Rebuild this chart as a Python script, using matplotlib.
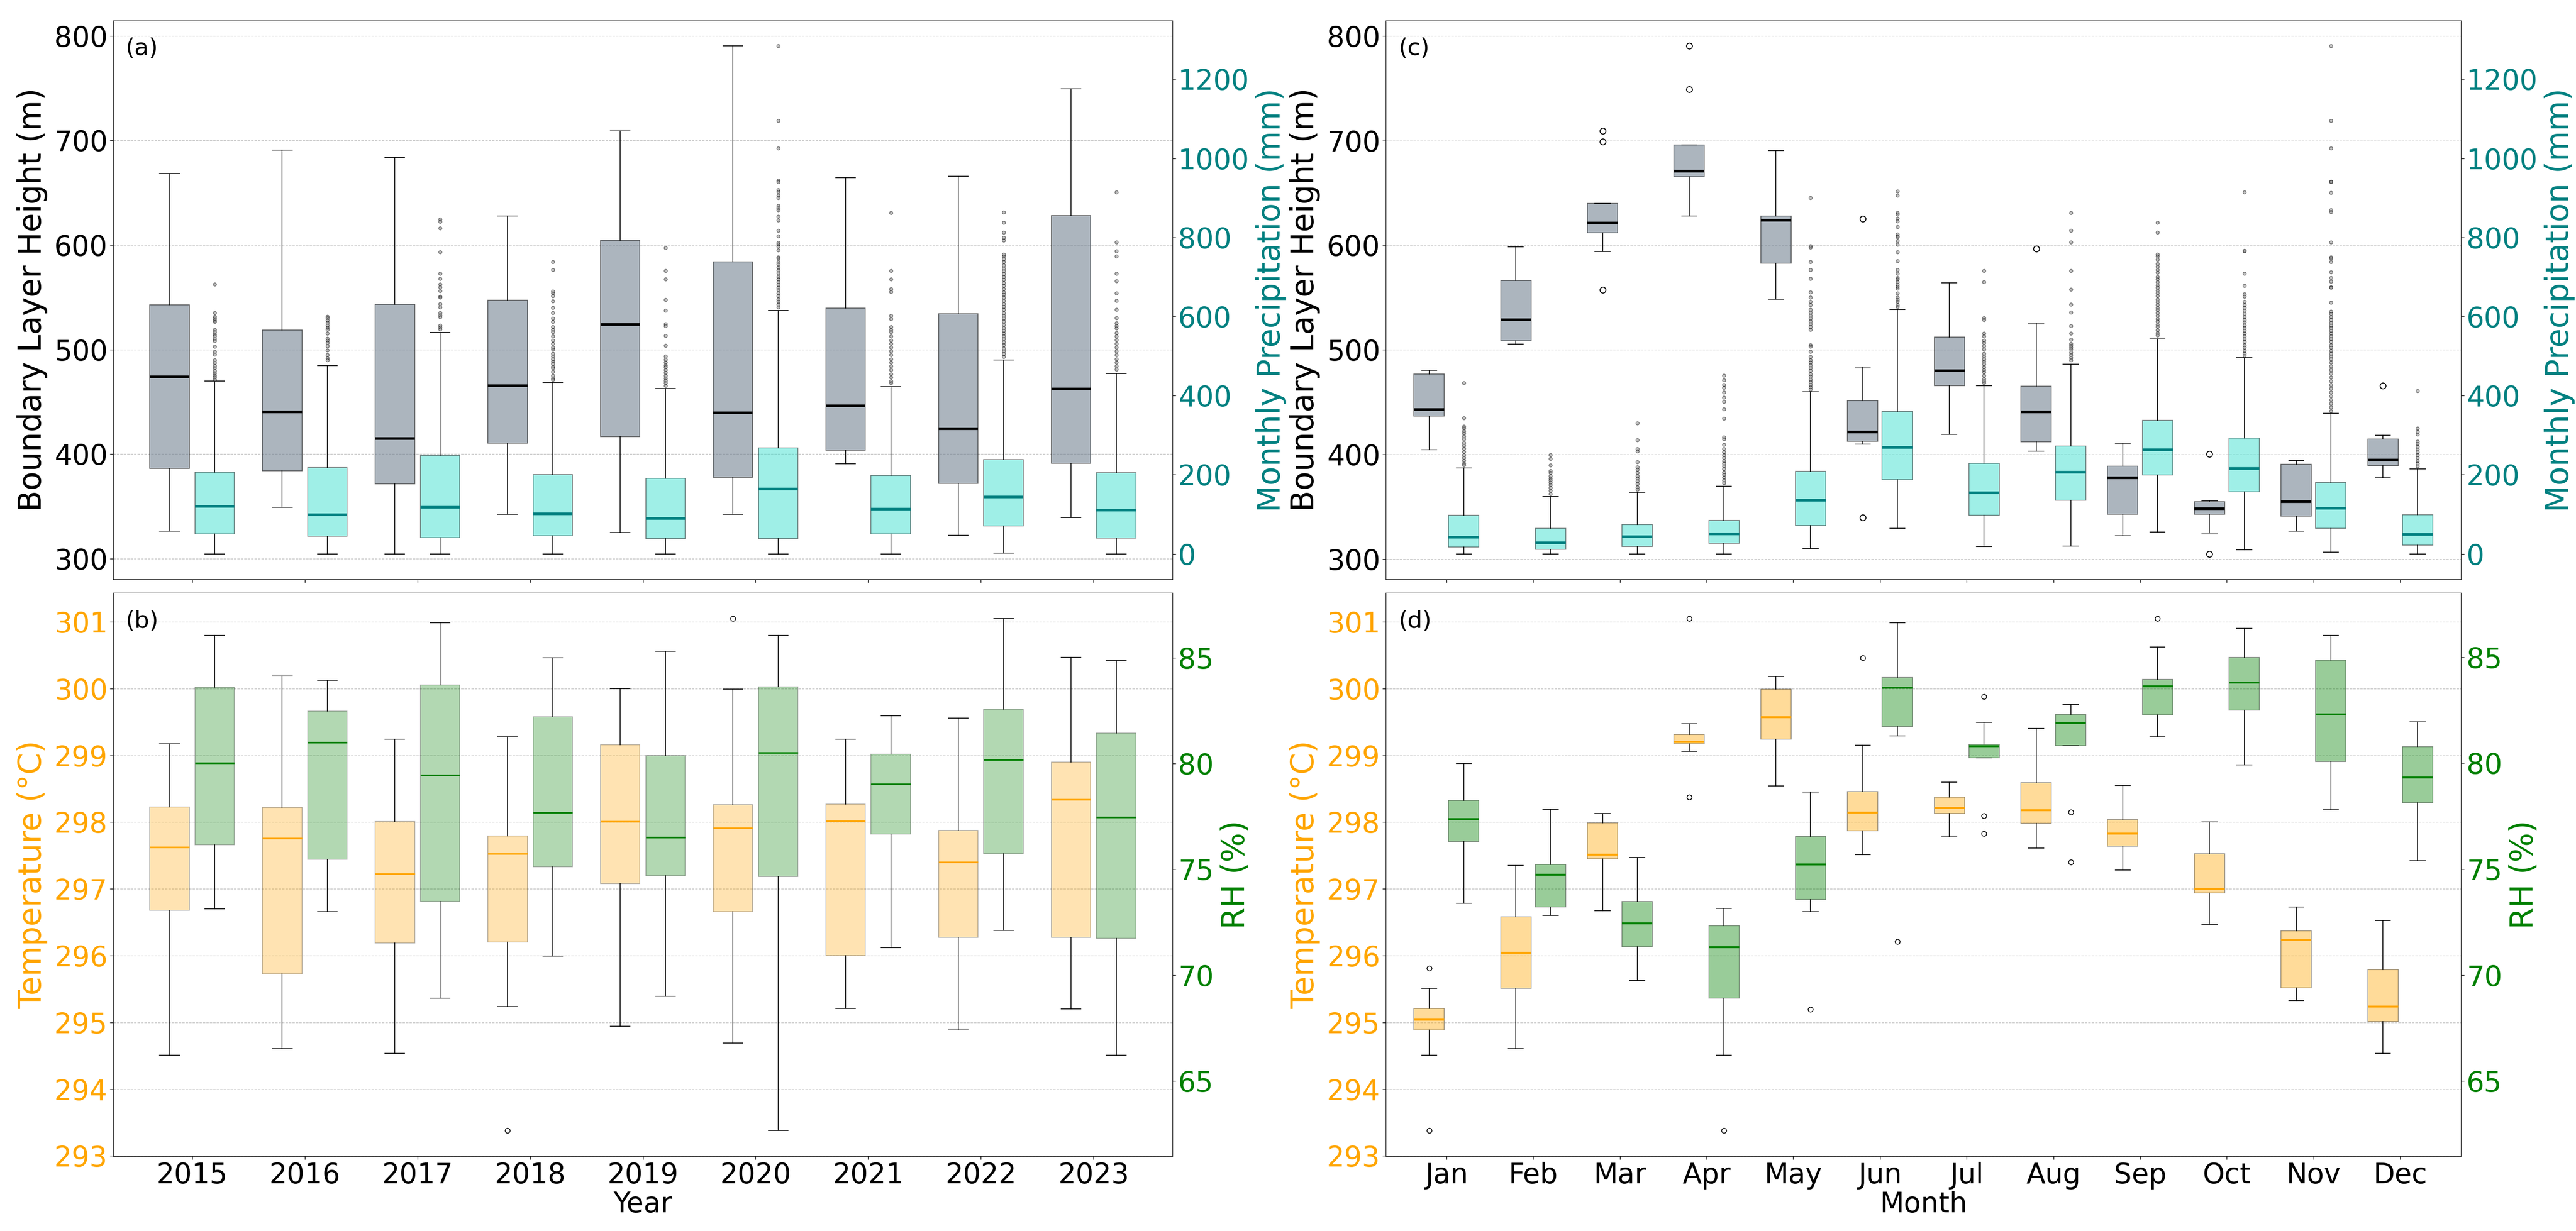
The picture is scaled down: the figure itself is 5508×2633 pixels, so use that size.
import matplotlib
matplotlib.use("Agg")
import matplotlib.pyplot as plt

# ---- data (box summaries: whislo, q1, med, q3, whishi) ----
years = ["2015", "2016", "2017", "2018", "2019", "2020", "2021", "2022", "2023"]
months = ["Jan", "Feb", "Mar", "Apr", "May", "Jun", "Jul", "Aug", "Sep", "Oct", "Nov", "Dec"]

blh_yr = [
    (326.4, 386.1, 473.7, 542.7, 668.5),
    (349.3, 384.0, 440.5, 518.4, 690.6),
    (304.6, 371.5, 415.1, 543.4, 683.5),
    (342.5, 410.4, 465.5, 547.0, 627.7),
    (325.0, 416.5, 524.1, 604.5, 708.9),
    (342.5, 377.6, 439.4, 583.8, 790.3),
    (390.8, 403.6, 446.2, 539.5, 664.5),
    (322.2, 371.8, 424.4, 534.1, 665.6),
    (339.3, 391.2, 462.3, 628.3, 749.5),
]
blh_yr_fliers = [[] for _ in years]

pr_yr = [
    (0.0, 51.0, 120.0, 206.0, 436.5),
    (0.0, 45.0, 99.0, 218.0, 476.0),
    (0.0, 40.6, 118.0, 248.5, 560.0),
    (0.0, 46.0, 101.0, 200.0, 433.0),
    (0.0, 39.0, 90.0, 191.0, 417.6),
    (0.0, 39.0, 164.0, 268.0, 615.0),
    (0.0, 50.0, 113.4, 198.4, 422.4),
    (2.0, 70.9, 143.6, 238.0, 490.4),
    (0.0, 39.7, 110.5, 205.0, 455.4),
]
pr_yr_fliers = [
    [682, 610, 600, 595, 591, 587, 567, 561, 555, 550, 543, 538, 524, 511, 504,
     490, 483, 476, 470, 463, 457, 451, 446, 441],
    [600, 596, 591, 585, 578, 572, 567, 558, 545, 540, 534, 526, 515, 503, 495, 490],
    [846, 840, 824, 763, 709, 696, 682, 674, 665, 651, 649, 632, 624, 610, 604,
     599, 578, 573, 568],
    [738, 718, 664, 659, 652, 639, 623, 609, 595, 587, 574, 567, 561, 550, 540,
     531, 522, 517, 507, 500, 493, 487, 481, 474, 470, 460, 451, 444, 440],
    [774, 716, 695, 643, 615, 581, 576, 551, 527, 500, 491, 484, 477, 472, 465,
     458, 451, 444, 438, 432, 425],
    [1284, 1095, 1026, 944, 940, 920, 916, 906, 900, 880, 874, 869, 853, 844, 817,
     803, 787, 783, 777, 768, 750, 748, 738, 732, 724, 717, 710, 701, 695, 687,
     680, 673, 667, 659, 652, 644, 638, 631, 624],
    [862, 716, 695, 670, 663, 602, 594, 574, 567, 561, 550, 540, 531, 522, 512,
     503, 493, 484, 475, 465, 455, 446, 437, 432],
    [864, 838, 813, 800, 793, 757, 753, 745, 738, 730, 722, 715, 708, 700, 693,
     685, 678, 670, 662, 655, 648, 640, 632, 625, 618, 610, 602, 595, 588, 580,
     572, 565, 558, 550, 543, 535, 528, 520, 513, 505, 498],
    [915, 788, 766, 753, 709, 690, 659, 640, 618, 596, 583, 576, 571, 559, 550,
     541, 531, 522, 512, 503, 493, 484, 475, 467],
]

temp_yr = [
    (294.51, 296.68, 297.625, 298.225, 299.175),
    (294.61, 295.73, 297.76, 298.22, 300.19),
    (294.54, 296.19, 297.225, 298.01, 299.24),
    (295.24, 296.20, 297.525, 297.79, 299.28),
    (294.94, 297.075, 298.01, 299.16, 300.00),
    (294.69, 296.66, 297.91, 298.26, 299.99),
    (295.21, 296.00, 298.02, 298.27, 299.24),
    (294.89, 296.275, 297.40, 297.875, 299.56),
    (295.20, 296.27, 298.34, 298.90, 300.47),
]
temp_yr_fliers = [[], [], [], [293.38], [], [301.05], [], [], []]

rh_yr = [
    (73.14, 76.15, 80.03, 83.60, 86.04),
    (73.00, 75.48, 81.00, 82.48, 83.94),
    (68.92, 73.49, 79.44, 83.72, 86.64),
    (70.91, 75.11, 77.67, 82.20, 85.00),
    (69.00, 74.71, 76.50, 80.37, 85.30),
    (62.66, 74.66, 80.51, 83.62, 86.04),
    (71.29, 76.67, 79.03, 80.45, 82.26),
    (72.11, 75.74, 80.17, 82.56, 86.85),
    (66.22, 71.74, 77.47, 81.43, 84.86),
]
rh_yr_fliers = [[] for _ in years]

blh_mo = [
    (404.7, 436.5, 443.0, 476.9, 480.5),
    (505.5, 508.4, 528.7, 566.3, 598.4),
    (593.8, 611.7, 621.3, 639.9, 639.9),
    (627.7, 665.6, 670.6, 695.6, 695.6),
    (548.4, 582.7, 623.8, 628.0, 690.6),
    (410.0, 412.6, 421.5, 451.5, 483.7),
    (419.4, 465.5, 479.8, 512.0, 564.1),
    (403.0, 412.3, 440.5, 465.1, 525.5),
    (322.2, 342.9, 377.6, 389.0, 410.8),
    (325.0, 342.9, 348.3, 354.7, 356.0),
    (326.8, 341.1, 355.0, 390.8, 394.4),
    (377.6, 389.3, 394.7, 414.7, 418.3),
]
blh_mo_fliers = [[], [], [709.2, 698.9, 557.3], [790.4, 748.9], [], [625.2, 339.7],
                 [], [596.6], [], [400.4, 305.0], [], [465.5]]

pr_mo = [
    (0.0, 17.0, 42.5, 97.3, 217.3),
    (0.0, 11.3, 28.3, 65.2, 145.5),
    (0.0, 18.9, 43.5, 73.7, 156.0),
    (0.0, 26.5, 50.0, 85.0, 171.0),
    (13.2, 71.8, 136.0, 208.8, 410.0),
    (65.2, 188.0, 269.3, 360.0, 618.0),
    (19.0, 97.3, 155.0, 228.7, 425.2),
    (19.8, 135.0, 207.0, 273.0, 479.0),
    (54.8, 199.4, 262.7, 337.3, 543.3),
    (10.4, 156.9, 215.4, 293.0, 496.0),
    (4.7, 64.3, 115.3, 180.5, 355.3),
    (0.0, 21.7, 49.1, 99.2, 214.5),
]
pr_mo_fliers = [
    [432, 344, 322, 318, 311, 304, 298, 290, 281, 274, 267, 259, 250, 243, 236, 229, 224],
    [250, 241, 224, 210, 205, 197, 191, 186, 180, 174, 167, 160, 152],
    [331, 288, 266, 260, 233, 219, 213, 205, 197, 191, 184, 177, 169, 163],
    [451, 439, 427, 420, 408, 396, 385, 366, 342, 295, 290, 276, 266, 257, 250,
     243, 235, 229, 222, 215, 207, 200, 193, 186, 179],
    [900, 778, 775, 738, 718, 696, 661, 649, 638, 630, 618, 611, 602, 595, 588,
     581, 574, 567, 528, 524, 511, 498, 490, 484, 477, 470, 463, 455, 449, 441,
     434, 427, 421, 416],
    [917, 906, 862, 859, 848, 841, 827, 808, 803, 801, 791, 782, 763, 741, 718,
     709, 698, 695, 687, 680, 676, 671, 659, 649, 642, 638, 630, 625],
    [716, 687, 596, 592, 557, 550, 540, 534, 526, 517, 507, 500, 493, 487, 479,
     472, 465, 459, 451, 443, 437, 432],
    [862, 817, 788, 716, 669, 631, 611, 576, 558, 542, 531, 527, 522, 517, 509,
     503, 496, 490],
    [838, 813, 757, 753, 744, 734, 727, 718, 711, 701, 695, 687, 679, 673, 666,
     659, 652, 644, 637, 630, 623, 616, 609, 602, 594, 588, 580, 574, 566, 559, 553],
    [915, 767, 765, 709, 678, 657, 651, 638, 630, 623, 615, 607, 599, 592, 586,
     578, 572, 564, 557, 550, 543, 536, 528, 522, 514, 507, 501],
    [1284, 1095, 1026, 942, 940, 913, 869, 865, 788, 750, 748, 738, 712, 698, 689,
     675, 673, 636, 613, 607, 599, 592, 585, 578, 572, 564, 557, 550, 543, 536,
     528, 522, 514, 507, 500, 493, 484, 475, 465, 456, 446, 437, 427, 418, 408,
     399, 390, 380, 371, 361],
    [412, 317, 309, 302, 285, 279, 271, 264, 257, 250, 243, 235, 229, 222],
]

temp_mo = [
    (294.51, 294.89, 295.04, 295.21, 295.51),
    (294.61, 295.51, 296.04, 296.58, 297.35),
    (296.67, 297.45, 297.51, 297.99, 298.13),
    (299.06, 299.175, 299.20, 299.31, 299.47),
    (298.54, 299.24, 299.57, 299.99, 300.18),
    (297.51, 297.87, 298.14, 298.46, 299.15),
    (297.78, 298.13, 298.21, 298.375, 298.60),
    (297.61, 297.98, 298.18, 298.59, 299.40),
    (297.28, 297.64, 297.825, 298.04, 298.55),
    (296.47, 296.94, 297.00, 297.53, 298.00),
    (295.325, 295.52, 296.24, 296.37, 296.725),
    (294.54, 295.01, 295.24, 295.79, 296.525),
]
temp_mo_fliers = [[295.81, 293.38], [], [], [301.05, 298.375], [], [300.46],
                  [], [], [], [], [], []]

rh_mo = [
    (73.39, 76.29, 77.37, 78.24, 79.98),
    (72.82, 73.22, 74.73, 75.21, 77.83),
    (69.75, 71.33, 72.45, 73.47, 75.56),
    (66.22, 68.92, 71.31, 72.33, 73.14),
    (73.00, 73.57, 75.23, 76.55, 78.64),
    (81.28, 81.73, 83.56, 84.05, 86.62),
    (80.25, 80.25, 80.80, 80.90, 81.93),
    (80.82, 80.82, 81.91, 82.30, 82.77),
    (81.24, 82.28, 83.62, 83.96, 85.47),
    (79.92, 82.50, 83.80, 85.00, 86.36),
    (77.79, 80.07, 82.30, 84.86, 86.02),
    (75.40, 78.14, 79.33, 80.78, 81.95),
]
rh_mo_fliers = [[], [], [], [62.66], [68.37], [71.58], [83.15, 77.51, 76.68],
                [77.69, 75.34], [86.83], [], [], []]

# ---- styling ----
TICK_FS = 43
LABEL_FS = 48
XLABEL_FS = 43
PANEL_FS = 36
W = 0.35
OFF = 0.2

small_fliers = dict(marker="o", markersize=5, markerfacecolor="gray",
                    markeredgecolor="black", alpha=0.5, markeredgewidth=1)
open_big = dict(marker="o", markersize=9, markerfacecolor="none",
                markeredgecolor="black", markeredgewidth=1.4)
open_small = dict(marker="o", markersize=7.5, markerfacecolor="none",
                  markeredgecolor="black", markeredgewidth=1.2)


def to_stats(summary, fliers):
    out = []
    for (lo, q1, med, q3, hi), fl in zip(summary, fliers):
        out.append(dict(whislo=lo, q1=q1, med=med, q3=q3, whishi=hi, fliers=fl))
    return out


def draw_boxes(ax, summary, fliers, positions, face, alpha, med_color, med_lw, flier_kw):
    ax.bxp(
        to_stats(summary, fliers),
        positions=positions,
        widths=W,
        patch_artist=True,
        manage_ticks=False,
        boxprops=dict(facecolor=face, edgecolor="black", alpha=alpha, linewidth=1.2),
        medianprops=dict(color=med_color, linewidth=med_lw),
        whiskerprops=dict(color="black", linewidth=1.2),
        capprops=dict(color="black", linewidth=1.2),
        flierprops=flier_kw,
    )


def style_axes(ax, ax2, n, labels, show_labels, left_color, right_color):
    ax.set_xlim(-0.7, n - 0.3)
    ax.set_xticks(range(n))
    if show_labels:
        ax.set_xticklabels(labels)
    else:
        ax.tick_params(axis="x", labelbottom=False)
    for a, c in ((ax, left_color), (ax2, right_color)):
        a.tick_params(axis="both", labelsize=TICK_FS, length=5, width=1)
        a.tick_params(axis="y", labelcolor=c)
    ax.set_axisbelow(True)
    ax.yaxis.grid(True, linestyle="--", color="gray", alpha=0.5, linewidth=1)


fig = plt.figure(figsize=(55.08, 26.33), dpi=100)

left_a, width_a = 0.04394, 0.41122
left_c, width_c = 0.53795, 0.41739
bottom_top, height_top = 0.52944, 0.45385
bottom_bot, height_bot = 0.06077, 0.45765

ax_a = fig.add_axes([left_a, bottom_top, width_a, height_top])
ax_b = fig.add_axes([left_a, bottom_bot, width_a, height_bot])
ax_c = fig.add_axes([left_c, bottom_top, width_c, height_top])
ax_d = fig.add_axes([left_c, bottom_bot, width_c, height_bot])

# (a) and (c): boundary layer height + precipitation
for ax, labels, blh, blh_fl, pr, pr_fl, tag in (
    (ax_a, years, blh_yr, blh_yr_fliers, pr_yr, pr_yr_fliers, "(a)"),
    (ax_c, months, blh_mo, blh_mo_fliers, pr_mo, pr_mo_fliers, "(c)"),
):
    n = len(labels)
    ax2 = ax.twinx()
    draw_boxes(ax, blh, blh_fl, [i - OFF for i in range(n)], "slategray", 0.58,
               "black", 4, open_big)
    draw_boxes(ax2, pr, pr_fl, [i + OFF for i in range(n)], "turquoise", 0.5,
               "teal", 4, small_fliers)
    style_axes(ax, ax2, n, labels, False, "black", "teal")
    ax.set_yticks([300, 400, 500, 600, 700, 800])
    ax2.set_yticks([0, 200, 400, 600, 800, 1000, 1200])
    ax.set_ylabel("Boundary Layer Height (m)", fontsize=LABEL_FS, labelpad=10)
    ax2.set_ylabel("Monthly Precipitation (mm)", fontsize=LABEL_FS, color="teal",
                   labelpad=10)
    ax.text(0.012, 0.97, tag, transform=ax.transAxes, fontsize=PANEL_FS, va="top")

# (b) and (d): temperature + RH
for ax, labels, xlabel, tmp, tmp_fl, rh, rh_fl, alpha, mlw, tag in (
    (ax_b, years, "Year", temp_yr, temp_yr_fliers, rh_yr, rh_yr_fliers, 0.3, 2.5, "(b)"),
    (ax_d, months, "Month", temp_mo, temp_mo_fliers, rh_mo, rh_mo_fliers, 0.4, 3, "(d)"),
):
    n = len(labels)
    ax2 = ax.twinx()
    draw_boxes(ax, tmp, tmp_fl, [i - OFF for i in range(n)], "orange", alpha,
               "orange", mlw, open_small)
    draw_boxes(ax2, rh, rh_fl, [i + OFF for i in range(n)], "green", alpha,
               "green", mlw, open_small)
    style_axes(ax, ax2, n, labels, True, "orange", "green")
    ax.set_yticks(range(293, 302))
    ax2.set_yticks([65, 70, 75, 80, 85])
    ax.set_ylabel("Temperature (°C)", fontsize=LABEL_FS, color="orange", labelpad=10)
    ax2.set_ylabel("RH (%)", fontsize=LABEL_FS, color="green", labelpad=10)
    ax.set_xlabel(xlabel, fontsize=XLABEL_FS, labelpad=2)
    ax.text(0.012, 0.97, tag, transform=ax.transAxes, fontsize=PANEL_FS, va="top")

fig.savefig("out.png", dpi=100)
